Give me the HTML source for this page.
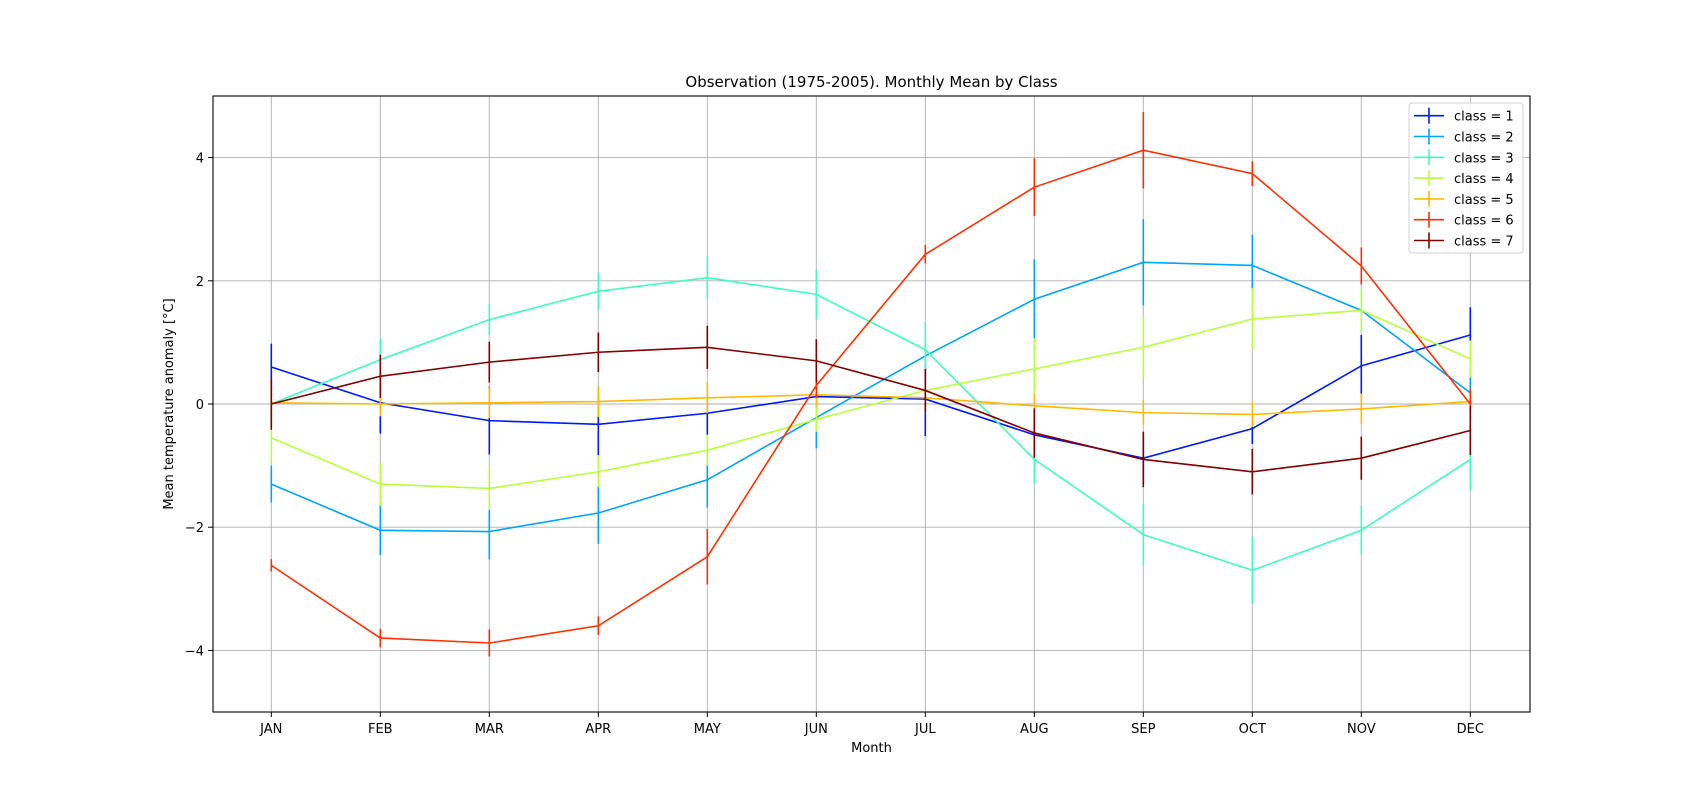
<!DOCTYPE html>
<html><head><meta charset="utf-8"><style>
body{margin:0;background:#fff;}
svg text{font-family:"DejaVu Sans","Liberation Sans",sans-serif;fill:#000;}
</style></head><body>
<svg id="chart" width="1700" height="800" xmlns="http://www.w3.org/2000/svg"></svg>
<script>
const months=["JAN","FEB","MAR","APR","MAY","JUN","JUL","AUG","SEP","OCT","NOV","DEC"];
const yTicks=[-4,-2,0,2,4];
const classNames=["class = 1","class = 2","class = 3","class = 4","class = 5","class = 6","class = 7"];
const classColors=["#0019ff","#00a4ff","#3dffb9","#b9ff3d","#ffb900","#ff3000","#800000"];
const mean1=[0.6,0.02,-0.27,-0.33,-0.15,0.12,0.08,-0.5,-0.88,-0.4,0.62,1.12];
const err1=[0.38,0.5,0.55,0.5,0.35,0.3,0.6,0.3,0.4,0.25,0.5,0.45];
const mean2=[-1.3,-2.05,-2.07,-1.77,-1.23,-0.22,0.78,1.7,2.3,2.25,1.52,0.18];
const err2=[0.3,0.4,0.45,0.5,0.45,0.5,0.3,0.65,0.7,0.5,0.35,0.25];
const mean3=[0.0,0.72,1.37,1.83,2.05,1.78,0.88,-0.9,-2.12,-2.7,-2.05,-0.9];
const err3=[0.2,0.35,0.25,0.3,0.35,0.4,0.45,0.4,0.5,0.55,0.4,0.5];
const mean4=[-0.55,-1.3,-1.37,-1.1,-0.75,-0.25,0.22,0.57,0.92,1.38,1.52,0.73];
const err4=[0.4,0.35,0.35,0.25,0.25,0.2,0.15,0.5,0.5,0.5,0.35,0.3];
const mean5=[0.02,0.0,0.02,0.04,0.1,0.15,0.1,-0.03,-0.14,-0.17,-0.08,0.04];
const err5=[0.2,0.2,0.25,0.25,0.25,0.2,0.15,0.2,0.2,0.2,0.25,0.15];
const mean6=[-2.62,-3.8,-3.88,-3.6,-2.48,0.3,2.43,3.52,4.12,3.74,2.24,0.0];
const err6=[0.1,0.15,0.22,0.15,0.45,0.2,0.15,0.47,0.62,0.2,0.3,0.25];
const mean7=[0.0,0.45,0.68,0.84,0.92,0.7,0.22,-0.47,-0.9,-1.1,-0.88,-0.43];
const err7=[0.42,0.35,0.33,0.32,0.35,0.35,0.35,0.4,0.45,0.37,0.35,0.4];
const means=[mean1,mean2,mean3,mean4,mean5,mean6,mean7];
const errs=[err1,err2,err3,err4,err5,err6,err7];

const L=213,R=1530,T=96,B=712;
const x=i=>271.3+i*109;
const y=v=>B-(v+5)/10*(B-T);
const svg=document.getElementById('chart');
const NS="http://www.w3.org/2000/svg";
function mk(tag,attrs,parent){const e=document.createElementNS(NS,tag);for(const k in attrs)e.setAttribute(k,attrs[k]);(parent||svg).appendChild(e);return e;}

// grid
months.forEach((m,i)=>{
  const g=mk('line',{x1:x(i),x2:x(i),y1:T,y2:B,stroke:'#b0b0b0','stroke-width':0.9});
  
  
  const t=mk('line',{x1:x(i),x2:x(i),y1:B,y2:B+5,stroke:'#000','stroke-width':1});
  
  
  const l=mk('text',{x:x(i),y:B+21,'text-anchor':'middle','font-size':13});
  l.textContent=m;
  
  
});
yTicks.forEach(v=>{
  const g=mk('line',{x1:L,x2:R,y1:y(v),y2:y(v),stroke:'#b0b0b0','stroke-width':0.9});
  
  
  const t=mk('line',{x1:L-5,x2:L,y1:y(v),y2:y(v),stroke:'#000','stroke-width':1});
  
  
  const l=mk('text',{x:L-9,y:y(v)+5,'text-anchor':'end','font-size':13});
  l.textContent=String(v).replace('-','\u2212');
  
  
});

// series
means.forEach((ms,s)=>{
  const g=mk('g',{});
  
  
  const pl=mk('polyline',{points:ms.map((v,i)=>x(i)+','+y(v)).join(' '),fill:'none',stroke:classColors[s],'stroke-width':1.6},g);
  
  
  ms.forEach((v,i)=>{
    const e=mk('line',{x1:x(i),x2:x(i),y1:y(v+errs[s][i]),y2:y(v-errs[s][i]),stroke:classColors[s],'stroke-width':1.6},g);
    
    
  });
});

// frame
const fr=mk('rect',{x:L,y:T,width:R-L,height:B-T,fill:'none',stroke:'#000','stroke-width':1.1});



// legend
const lg=mk('g',{});


mk('rect',{x:1409,y:103,width:114,height:150,rx:3,fill:'#fff','fill-opacity':0.8,stroke:'#d0d0d0','stroke-width':1},lg);
classNames.forEach((n,s)=>{
  const cy=115.7+s*20.8;
  const e=mk('g',{},lg);
  
  
  mk('line',{x1:1414,x2:1444,y1:cy,y2:cy,stroke:classColors[s],'stroke-width':1.6},e);
  mk('line',{x1:1429,x2:1429,y1:cy-8,y2:cy+8,stroke:classColors[s],'stroke-width':1.6},e);
  const t=mk('text',{x:1454,y:cy+5,'font-size':13},e);
  t.textContent=n;
});

const title=mk('text',{x:(L+R)/2,y:87,'text-anchor':'middle','font-size':15});
title.textContent='Observation (1975-2005). Monthly Mean by Class';


const xl=mk('text',{x:(L+R)/2,y:752,'text-anchor':'middle','font-size':13});
xl.textContent='Month';


const yl=mk('text',{x:0,y:0,'text-anchor':'middle','font-size':13,transform:'translate(173,'+((T+B)/2)+') rotate(-90)'});
yl.textContent='Mean temperature anomaly [°C]';


</script>
</body></html>
